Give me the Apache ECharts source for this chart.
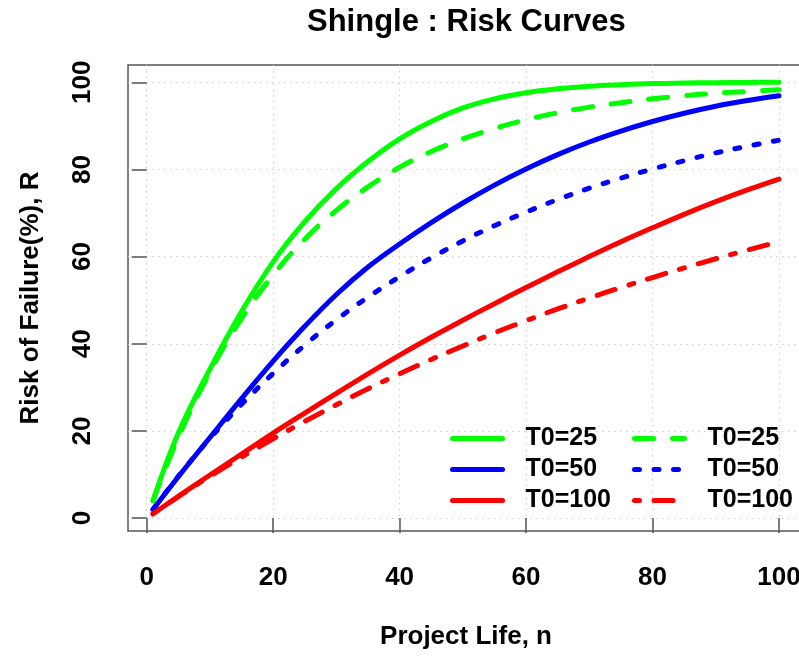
<!DOCTYPE html>
<html>
<head>
<meta charset="utf-8">
<script src="https://cdn.jsdelivr.net/npm/echarts@6/dist/echarts.min.js"></script>
<style>
  html, body { margin: 0; padding: 0; background: #ffffff; }
  #chart { width: 799px; height: 657px; }
</style>
</head>
<body>
<div id="chart"></div>
<script>
// Project life (years)
const projectLife = [1, 5, 10, 15, 20, 25, 30, 35, 40, 45, 50, 55, 60, 65, 70, 75, 80, 85, 90, 95, 100];

// Risk of failure (%) - solid curves
const riskT25 = [4.0, 19.5, 34.2, 47.4, 58.8, 68.0, 75.6, 81.8, 87.0, 91.0, 94.1, 96.2, 97.6, 98.5, 99.1, 99.45, 99.7, 99.82, 99.9, 99.96, 100];
const riskT50 = [2.0, 9.5, 18.5, 27.4, 36.0, 44.0, 51.3, 57.6, 62.9, 67.8, 72.3, 76.4, 80.1, 83.4, 86.3, 88.8, 91.0, 92.9, 94.5, 95.8, 96.9];
const riskT100 = [1.0, 5.0, 9.9, 14.7, 19.5, 24.1, 28.6, 33.1, 37.4, 41.5, 45.4, 49.2, 52.9, 56.5, 60.0, 63.4, 66.6, 69.7, 72.6, 75.3, 77.8];

// Risk of failure (%) - dashed / dotted / dash-dot curves
const riskT25b = [4.0, 18.5, 33.5, 45.8, 55.8, 64.0, 70.6, 76.0, 80.5, 84.1, 87.0, 89.4, 91.4, 93.0, 94.3, 95.3, 96.2, 96.9, 97.5, 97.9, 98.3];
const riskT50b = [2.0, 9.6, 18.3, 26.1, 33.2, 39.7, 45.5, 50.7, 55.4, 59.7, 63.6, 67.1, 70.2, 73.1, 75.7, 78.0, 80.1, 82.0, 83.8, 85.3, 86.7];
const riskT100b = [1.0, 4.9, 9.6, 14.0, 18.2, 22.2, 26.0, 29.7, 33.1, 36.4, 39.5, 42.5, 45.3, 48.0, 50.5, 52.9, 55.2, 57.4, 59.5, 61.5, 63.4];

const tickValues = [0, 20, 40, 60, 80, 100];
const labelsSolid = ['T0=25', 'T0=50', 'T0=100'];
const labelsBroken = ['T0=25 ', 'T0=50 ', 'T0=100 '];

const FONT = 'Liberation Sans, Arial, Helvetica, sans-serif';
const GREEN = '#00ff00', BLUE = '#0000ff', RED = '#ff0000';

function pairs(ys) { return projectLife.map((n, i) => [n, ys[i]]); }

function curve(name, ys, color, dash) {
  return {
    name: name,
    type: 'line',
    data: pairs(ys),
    smooth: 0.4,
    symbol: 'none',
    showSymbol: false,
    lineStyle: { color: color, width: 5, type: dash || 'solid', cap: 'round', join: 'round' },
    itemStyle: { color: color },
    emphasis: { disabled: true },
    animation: false
  };
}

function axis(extra) {
  return Object.assign({
    type: 'value',
    min: -2.96,
    max: 103.96,
    axisLine: { show: false },
    axisTick: { show: true, inside: false, length: 15, customValues: tickValues,
                lineStyle: { color: '#555', width: 1.5 } },
    splitLine: { show: true, lineStyle: { color: '#cccccc', width: 1, type: [1.5, 4.5] } },
    nameLocation: 'middle',
    nameTextStyle: { fontFamily: FONT, fontWeight: 'bold', fontSize: 26, color: '#000' }
  }, extra);
}

function legendBlock(left, names) {
  return {
    orient: 'vertical',
    left: left,
    top: 426,
    padding: 0,
    itemWidth: 50,
    itemHeight: 20,
    itemGap: 6,
    data: names,
    selectedMode: false,
    formatter: n => n.trim(),
    itemStyle: { opacity: 0 },
    lineStyle: { width: 5, cap: 'round' },
    textStyle: { fontFamily: FONT, fontWeight: 'bold', fontSize: 25, color: '#000',
                 lineHeight: 20, padding: [0, 0, 0, 18] }
  };
}

const chart = echarts.init(document.getElementById('chart'), null, { renderer: 'canvas' });
chart.setOption({
  backgroundColor: '#ffffff',
  animation: false,
  title: {
    text: 'Shingle : Risk Curves',
    left: 302,
    top: 2,
    textStyle: { fontFamily: FONT, fontWeight: 'bold', fontSize: 31, color: '#000' }
  },
  grid: {
    left: 128, right: -5, top: 65, bottom: 126,
    show: true, borderColor: '#555', borderWidth: 1.5,
    containLabel: false, outerBoundsMode: 'none'
  },
  xAxis: axis({ name: 'Project Life, n', nameGap: 93, axisLabel: {
    customValues: tickValues, fontFamily: FONT, fontWeight: 'bold', fontSize: 26, color: '#000', margin: 34 } }),
  yAxis: axis({ name: 'Risk of Failure(%), R', nameGap: 84, axisLabel: {
    customValues: tickValues, fontFamily: FONT, fontWeight: 'bold', fontSize: 26, color: '#000', margin: 32, rotate: 90 } }),
  legend: [legendBlock(450, labelsSolid), legendBlock(632, labelsBroken)],
  series: [
    curve(labelsSolid[0], riskT25, GREEN),
    curve(labelsSolid[1], riskT50, BLUE),
    curve(labelsSolid[2], riskT100, RED),
    curve(labelsBroken[0], riskT25b, GREEN, [19, 19]),
    curve(labelsBroken[1], riskT50b, BLUE, [5, 14.5]),
    curve(labelsBroken[2], riskT100b, RED, [5, 14.5, 19, 14.5])
  ]
});
</script>
</body>
</html>
